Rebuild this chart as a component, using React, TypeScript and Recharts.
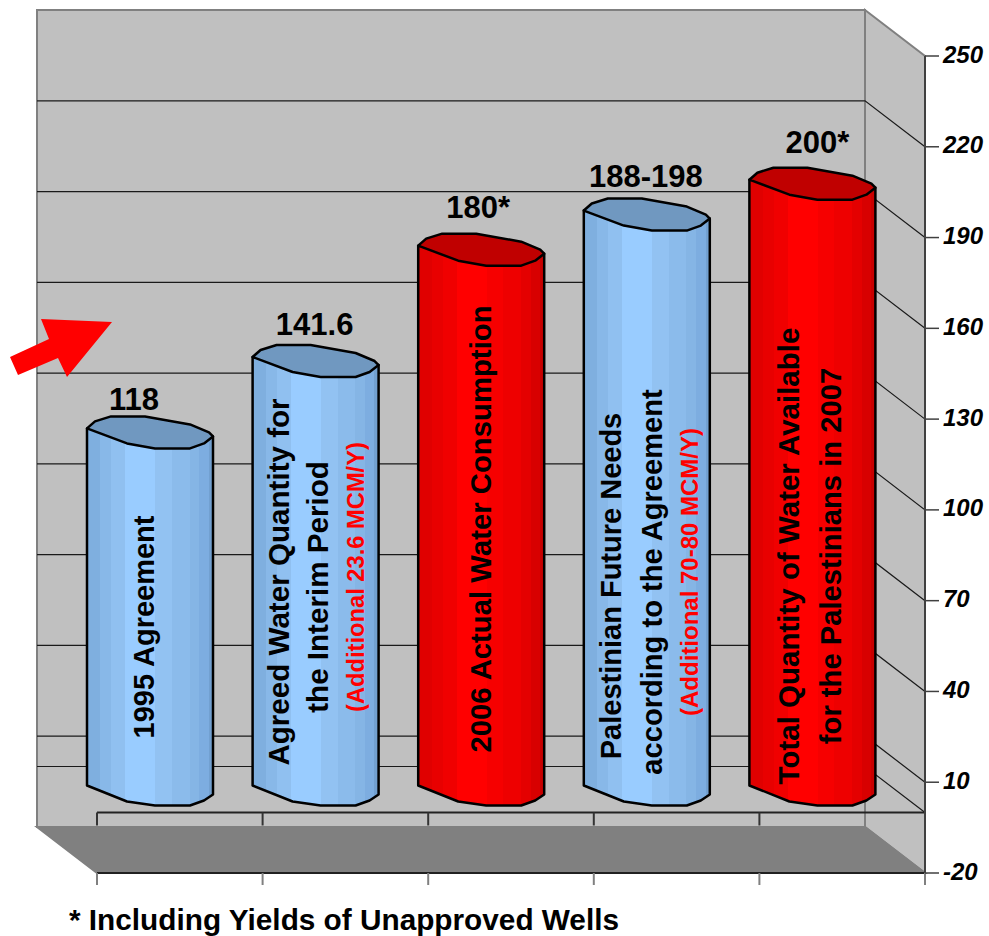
import { BarChart, Bar, XAxis, YAxis, ReferenceArea, ReferenceLine } from "recharts";

const categories = [
  "1995 Agreement",
  "Agreed Water Quantity",
  "2006 Actual Water Consumption",
  "Palestinian Future Needs",
  "Total Quantity of Water Available",
];
// heights as drawn in the picture, the printed labels differ a bit
const values = [118, 141.6, 178.4, 190, 200.2];
const valueLabels = ["118", "141.6", "180*", "188-198", "200*"];
const tones = ["blue", "blue", "red", "blue", "red"];
const yTicks = [-20, 10, 40, 70, 100, 130, 160, 190, 220, 250];
const gridValues = [0, 10, 40, 70, 100, 130, 160, 190, 220];

const data = categories.map((name, i) => ({ name, value: values[i] }));

// label position relative to the bar centre / left top corner
const labelOffsets = [
  { dx: -16, dy: -18 },
  { dx: -1, dy: -22 },
  { dx: -3, dy: -28 },
  { dx: -1, dy: -24 },
  { dx: 5, dy: -27 },
];

const barTexts = [
  [{ text: "1995 Agreement", dx: 58, cy: 627, size: 29, color: "#000" }],
  [
    { text: "Agreed Water Quantity for", dx: 28, cy: 582, size: 29.6, color: "#000" },
    { text: "the Interim Period", dx: 67, cy: 587, size: 29.6, color: "#000" },
    { text: "(Additional 23.6 MCM/Y)", dx: 104, cy: 577, size: 23.7, color: "#f00" },
  ],
  [{ text: "2006 Actual Water Consumption", dx: 64, cy: 529, size: 29.3, color: "#000" }],
  [
    { text: "Palestinian Future Needs", dx: 28, cy: 586, size: 29, color: "#000" },
    { text: "according to the Agreement", dx: 69, cy: 582, size: 29.1, color: "#000" },
    { text: "(Additional 70-80 MCM/Y)", dx: 107, cy: 572, size: 24, color: "#f00" },
  ],
  [
    { text: "Total Quantity of Water Available", dx: 41, cy: 556, size: 29.5, color: "#000" },
    { text: "for the Palestinians in 2007", dx: 83, cy: 556, size: 29.2, color: "#000" },
  ],
];

const FONT = "'Liberation Sans', Arial, sans-serif";
const DEPTH_X = 60;
const DEPTH_Y = 46;
const BAR_DX = -30;
const BAR_DY = -27;

const bandStops = [0, 0.106, 0.194, 0.305, 0.543, 0.675, 0.815, 0.892, 0.966, 1];
const blueBands = ["#7fafdf", "#88b8e8", "#90c0f0", "#99ccff", "#92c2f2", "#8bbbeb", "#85b5e5", "#7dade0", "#72a0d0"];
const redBands = ["#e00000", "#e80000", "#f00000", "#ff0000", "#f60000", "#ee0000", "#e40000", "#d80000", "#c80000"];

const capFront = [[0, 0], [40, 15], [68, 20], [103, 20], [117, 15], [126, 8]];
const capBack = [[122, 4], [103, -4], [58, -12], [24, -12], [8, -7]];
const baseFront = [[0, 0], [40, 16], [68, 20], [103, 20], [117, 15], [126, 9]];

const bandGradient = (id: string, colors: string[]) => (
  <linearGradient id={id} x1="0" y1="0" x2="1" y2="0">
    {colors.flatMap((c, i) => [
      <stop key={i + "a"} offset={bandStops[i]} stopColor={c} />,
      <stop key={i + "b"} offset={bandStops[i + 1]} stopColor={c} />,
    ])}
  </linearGradient>
);

const Cylinder = (props: any) => {
  const { x, y, width, height, index } = props;
  const left = x + BAR_DX;
  const top = y + BAR_DY;
  const bottom = y + height + BAR_DY;
  const tone = tones[index];
  const bodyPts = [
    `${left},${top}`,
    `${left + width},${top + 8}`,
    ...baseFront.map(([a, b]) => `${left + a},${bottom + b}`).reverse(),
  ].join(" ");
  const capPts = [...capFront, ...capBack].map(([a, b]) => `${left + a},${top + b}`).join(" ");
  const off = labelOffsets[index];
  return (
    <g>
      <polygon
        points={bodyPts}
        fill={tone === "red" ? "url(#redBand)" : "url(#blueBand)"}
        stroke="#000"
        strokeWidth={2.5}
        strokeLinejoin="round"
      />
      <polygon
        points={capPts}
        fill={tone === "red" ? "#c00000" : "#7098c0"}
        stroke="#000"
        strokeWidth={2.5}
        strokeLinejoin="round"
      />
      <text
        x={left + width / 2 + off.dx}
        y={top + off.dy}
        textAnchor="middle"
        fontFamily={FONT}
        fontWeight="bold"
        fontSize={31}
        fill="#000"
      >
        {valueLabels[index]}
      </text>
      {barTexts[index].map((t) => (
        <text
          key={t.text}
          transform={`translate(${left + t.dx + t.size * 0.3},${t.cy}) rotate(-90)`}
          textAnchor="middle"
          fontFamily={FONT}
          fontWeight="bold"
          fontSize={t.size}
          fill={t.color}
        >
          {t.text}
        </text>
      ))}
    </g>
  );
};

const Walls = (props: any) => {
  const { x, y, width, height } = props;
  const r = x + width;
  const b = y + height;
  const step = width / categories.length;
  const edges = categories.map((_, i) => x + i * step).concat(r);
  return (
    <g>
      <rect x={x - DEPTH_X} y={y - DEPTH_Y} width={width} height={height} fill="#c0c0c0" stroke="#808080" strokeWidth={2} />
      <polygon
        points={`${r - DEPTH_X},${y - DEPTH_Y} ${r},${y} ${r},${b} ${r - DEPTH_X},${b - DEPTH_Y}`}
        fill="#c0c0c0"
        stroke="#808080"
        strokeWidth={2}
      />
      <polygon
        points={`${x - DEPTH_X},${b - DEPTH_Y} ${r - DEPTH_X},${b - DEPTH_Y} ${r},${b} ${x},${b}`}
        fill="#808080"
        stroke="#808080"
        strokeWidth={2}
      />
      <line x1={x} y1={b} x2={r} y2={b} stroke="#000" strokeWidth={1.5} />
      {edges.map((ex) => (
        <line key={ex} x1={ex} y1={b} x2={ex} y2={b + 12} stroke="#808080" strokeWidth={2} />
      ))}
    </g>
  );
};

const GridFold = (props: any) => {
  const { x1, x2, y1 } = props;
  const l = Math.min(x1, x2);
  const r = Math.max(x1, x2);
  return (
    <polyline
      points={`${l - DEPTH_X},${y1 - DEPTH_Y} ${r - DEPTH_X},${y1 - DEPTH_Y} ${r},${y1}`}
      fill="none"
      stroke="#1a1a1a"
      strokeWidth={1.2}
    />
  );
};

const ZeroAxis = (props: any) => {
  const { x1, x2, y1 } = props;
  const l = Math.min(x1, x2);
  const r = Math.max(x1, x2);
  const step = (r - l) / categories.length;
  const edges = categories.map((_, i) => l + i * step).concat(r);
  return (
    <g>
      <line x1={l} y1={y1} x2={r} y2={y1} stroke="#222" strokeWidth={2} />
      {edges.map((ex) => (
        <line key={ex} x1={ex} y1={y1} x2={ex} y2={y1 + 13} stroke="#333" strokeWidth={2} />
      ))}
    </g>
  );
};

const App = () => {
  return (
    <div style={{ position: "absolute", left: 0, top: 0, width: 989, height: 936, background: "#fff" }}>
      <BarChart
        width={989}
        height={936}
        data={data}
        barSize={126}
        margin={{ top: 56, right: 0, bottom: 0, left: 97 }}
      >
        <defs>
          {bandGradient("blueBand", blueBands)}
          {bandGradient("redBand", redBands)}
        </defs>
        <XAxis dataKey="name" height={63} tick={false} tickLine={false} axisLine={false} />
        <YAxis
          orientation="right"
          width={64}
          domain={[-20, 250]}
          ticks={yTicks}
          interval={0}
          tickSize={14}
          tickMargin={4}
          axisLine={{ stroke: "#404040", strokeWidth: 2 }}
          tickLine={{ stroke: "#404040", strokeWidth: 1.5 }}
          tick={{ fontFamily: FONT, fontWeight: "bold", fontStyle: "italic", fontSize: 24, fill: "#000", dy: -2 }}
        />
        <ReferenceArea y1={-20} y2={250} ifOverflow="visible" shape={<Walls />} zIndex={100} />
        {gridValues.map((v) => (
          <ReferenceLine key={v} y={v} ifOverflow="visible" shape={<GridFold />} zIndex={150} />
        ))}
        <ReferenceLine y={0} ifOverflow="visible" shape={<ZeroAxis />} zIndex={150} />
        <Bar dataKey="value" isAnimationActive={false} shape={<Cylinder />} zIndex={300} />
      </BarChart>
      <svg width={989} height={936} style={{ position: "absolute", left: 0, top: 0, pointerEvents: "none" }}>
        <polygon points="10,357 49,339 41,319 112,322 67,377 58,358 18,375" fill="#f00" />
        <text x={69} y={930} fontFamily={FONT} fontWeight="bold" fontSize={29} textLength={550} lengthAdjust="spacingAndGlyphs" fill="#000">
          * Including Yields of Unapproved Wells
        </text>
      </svg>
    </div>
  );
};

export default App;
